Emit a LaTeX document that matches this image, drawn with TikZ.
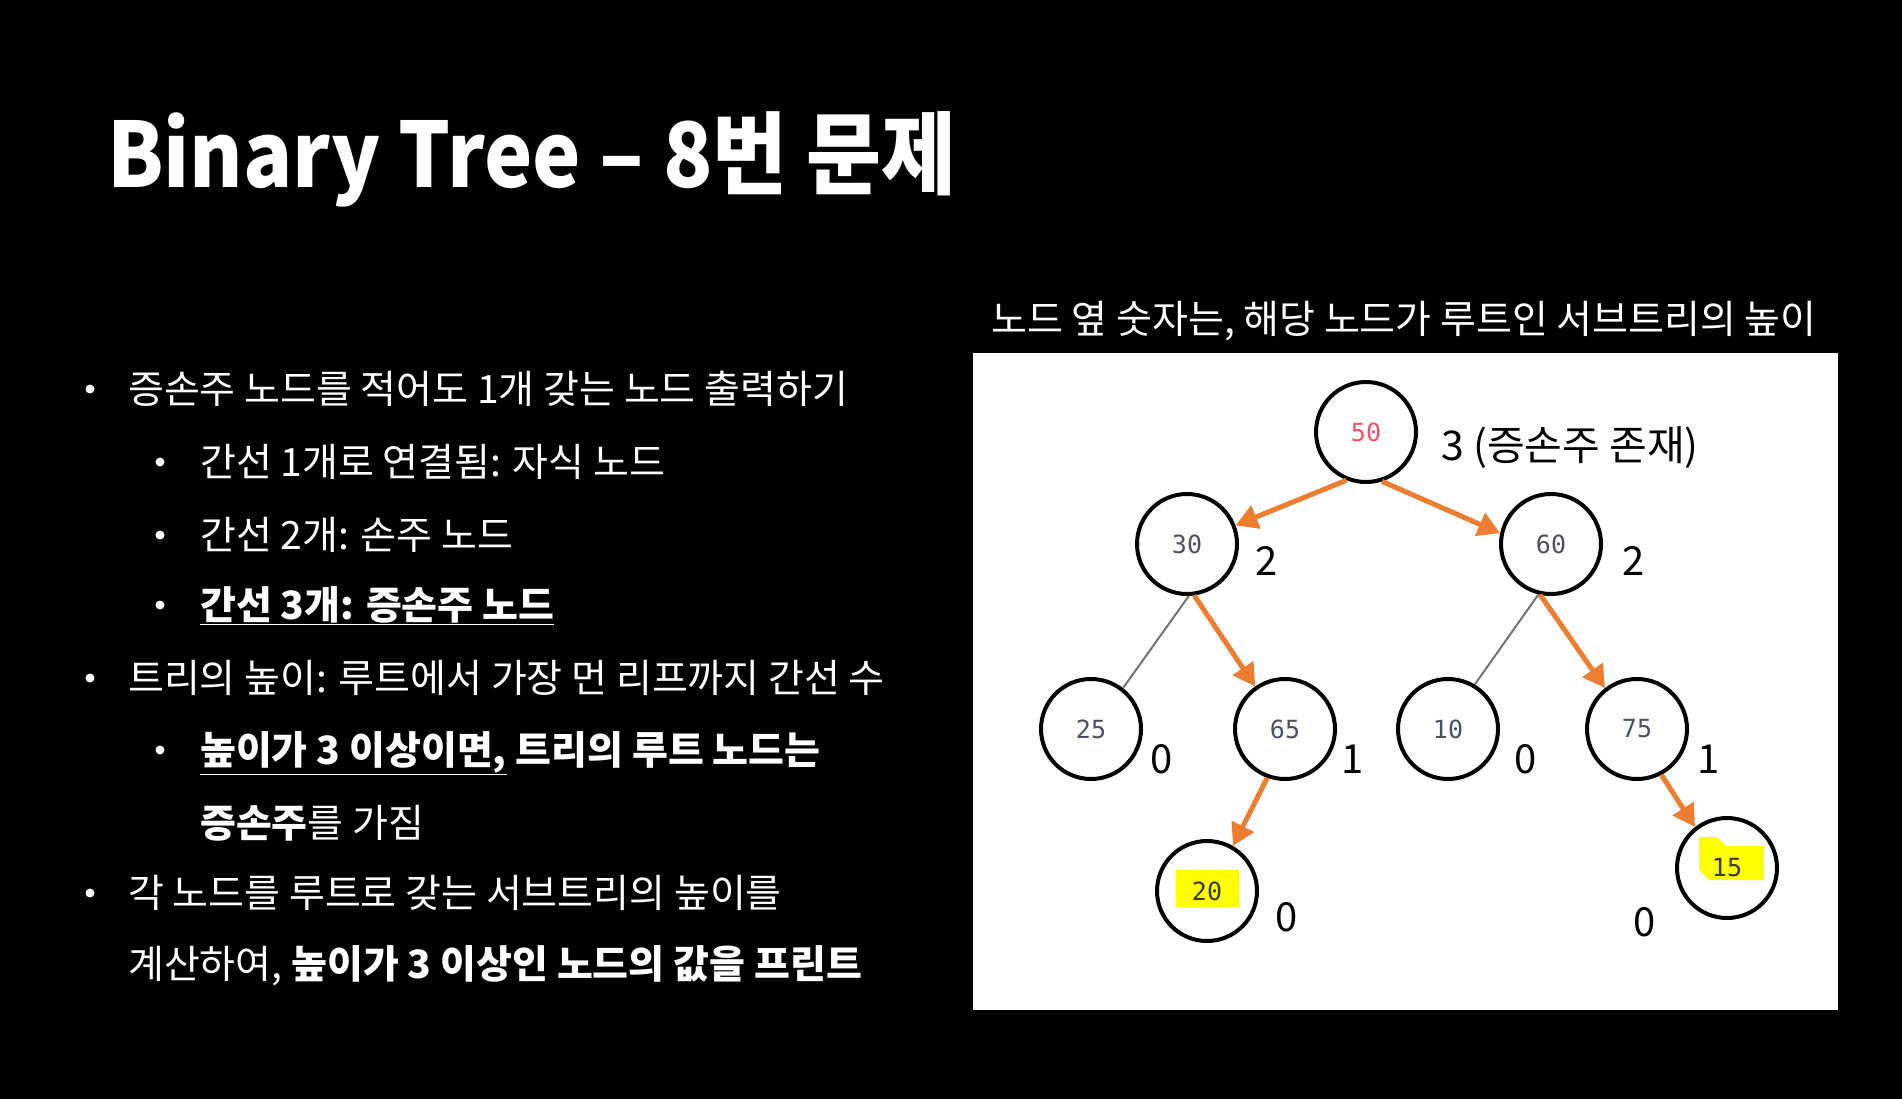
\documentclass[tikz,border=0pt]{standalone}
\usepackage{fontspec}
\setmainfont{Noto Sans CJK KR}
\newfontfamily\monofnt{DejaVu Sans Mono}
\usetikzlibrary{arrows.meta}
\definecolor{orgline}{HTML}{ED7D31}
\definecolor{nodegray}{HTML}{4A5262}
\definecolor{nodered}{HTML}{F0506A}
\definecolor{hlyellow}{HTML}{FFFF00}
\definecolor{hltext}{HTML}{3A3A10}
\tikzset{
  tnode/.style={circle, draw=black, line width=4pt, minimum size=100pt, inner sep=0pt,
    font=\monofnt\fontsize{25}{25}\selectfont, text=nodegray},
  oarrow/.style={draw=orgline, line width=5pt, -{Triangle[length=22pt,width=24pt]}},
  gline/.style={draw=black!55, line width=2pt},
  hlabel/.style={font=\fontsize{40}{40}\selectfont, text=black, inner sep=0pt},
  btext/.style={anchor=base west, font=\fontsize{39}{39}\selectfont, text=white, inner sep=0pt},
  bdot/.style={circle, fill=white, minimum size=9pt, inner sep=0pt},
}
\begin{document}
\begin{tikzpicture}[x=1pt,y=-1pt]
\fill[black] (0,0) rectangle (1902,1099);
\useasboundingbox (0,0) rectangle (1902,1099);

% title
\node[anchor=base west, inner sep=0pt, text=white, font=\bfseries\fontsize{90}{90}\selectfont] (title) at (107,188) {\scalebox{0.905}[1]{Binary Tree – 8번 문제}};

% bullets
\node[bdot] (d1) at (90,389) {};
\node[btext] (t1) at (128,403) {증손주 노드를 적어도 1개 갖는 노드 출력하기};
\node[bdot] (d2) at (160,462) {};
\node[btext] (t2) at (200,476) {간선 1개로 연결됨: 자식 노드};
\node[bdot] (d3) at (160,535) {};
\node[btext] (t3) at (200,549) {간선 2개: 손주 노드};
\node[bdot] (d4) at (160,605) {};
\node[btext] (t4) at (200,619) {\bfseries\underline{간선 3개: 증손주 노드}};
\node[bdot] (d5) at (90,678) {};
\node[btext] (t5) at (128,692) {트리의 높이: 루트에서 가장 먼 리프까지 간선 수};
\node[bdot] (d6) at (160,750) {};
\node[btext] (t6) at (200,764) {\bfseries\underline{높이가 3 이상이면,} 트리의 루트 노드는};
\node[btext] (t7) at (200,837) {{\bfseries 증손주}를 가짐};
\node[bdot] (d8) at (90,893) {};
\node[btext] (t8) at (128,907) {각 노드를 루트로 갖는 서브트리의 높이를};
\node[btext] (t9) at (128,978) {계산하여, {\bfseries 높이가 3 이상인 노드의 값을 프린트}};

% panel
\node[anchor=center, inner sep=0pt, text=white, font=\fontsize{39}{39}\selectfont] (cap) at (1404,321) {노드 옆 숫자는, 해당 노드가 루트인 서브트리의 높이};
\fill[white] (973,353) rectangle (1838,1010);

% highlights
\fill[hlyellow] (1176,870) rectangle (1239,907);
\fill[hlyellow] (1699,837) -- (1717,837) -- (1726,846) -- (1764,846) -- (1764,880) -- (1709,880) -- (1699,870) -- cycle;

% tree nodes
\node[tnode, text=nodered] (n50) at (1366,432) {50};
\node[tnode] (n30) at (1187,544) {30};
\node[tnode] (n60) at (1551,544) {60};
\node[tnode] (n25) at (1091,729) {25};
\node[tnode] (n65) at (1285,729) {65};
\node[tnode] (n10) at (1448,729) {10};
\node[tnode] (n75) at (1637,729) {75};
\node[tnode, text=hltext] (n20) at (1207,891) {20};
\node[tnode, text=hltext] (n15) at (1727,868) {15};

% edges
\draw[oarrow] (n50.248) -- (n30.21);
\draw[oarrow] (n50.288) -- (n60.168);
\draw[gline] (n30.272) -- (n25.52);
\draw[oarrow] (n30.278) -- (n65.125);
\draw[gline] (n60.256) -- (n10.59);
\draw[oarrow] (n60.258) -- (n75.128);
\draw[oarrow] (n65.250) -- (n20.60);
\draw[oarrow] (n75.298) -- (n15.128);

% height labels
\node[hlabel, anchor=west] (h50) at (1441,448) {\fontsize{41}{41}\selectfont 3 (증손주 존재)};
\node[hlabel] (h30) at (1267,561) {2};
\node[hlabel] (h60) at (1634,561) {2};
\node[hlabel] (h25) at (1162,759) {0};
\node[hlabel] (h65) at (1353,759) {1};
\node[hlabel] (h10) at (1526,759) {0};
\node[hlabel] (h75) at (1709,759) {1};
\node[hlabel] (h20) at (1287,917) {0};
\node[hlabel] (h15) at (1645,922) {0};
\end{tikzpicture}
\end{document}
